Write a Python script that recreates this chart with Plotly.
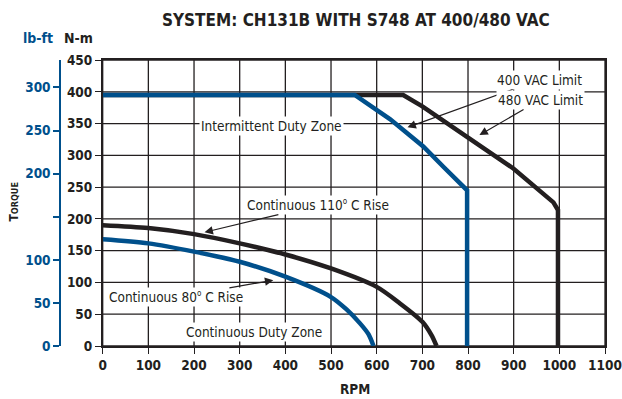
import plotly.graph_objects as go

# Torque-speed curves, torque in N-m vs motor speed in RPM
rpm_400 = [0, 552, 629, 702, 746, 793, 798, 798]
nm_400 = [395, 395, 357, 314, 282, 250, 245, 0]

rpm_480 = [0, 658, 700, 800, 900, 987, 997, 997]
nm_480 = [395, 395, 377, 327, 279, 226, 214, 0]

rpm_110 = [0, 100, 200, 300, 400, 500, 600, 651, 700, 720, 731]
nm_110 = [190, 185.5, 176, 161.5, 144, 122, 93, 67, 38, 17, 0]

rpm_80 = [0, 100, 200, 300, 400, 500, 534, 563, 582, 593]
nm_80 = [168, 161.5, 148.5, 132.5, 109, 77, 57.5, 36, 18.6, 0]

x_ticks = list(range(0, 1101, 100))
nm_ticks = list(range(0, 451, 50))
lbft_ticks = [0, 50, 100, 150, 200, 250, 300]
lbft_labels = ["0", "50", "100", "", "200", "250", "300"]
NM_PER_LBFT = 1.35582

BLUE = "#00508c"
BLACK = "#231f20"
FONT = "DejaVu Sans Condensed, DejaVu Sans, sans-serif"

fig = go.Figure()

fig.add_trace(go.Scatter(x=rpm_80, y=nm_80, mode="lines", line=dict(color=BLUE, width=4.5, shape="spline", smoothing=0.8), hoverinfo="skip"))
fig.add_trace(go.Scatter(x=rpm_110, y=nm_110, mode="lines", line=dict(color=BLACK, width=4.5, shape="spline", smoothing=0.8), hoverinfo="skip"))
fig.add_trace(go.Scatter(x=rpm_480, y=nm_480, mode="lines", line=dict(color=BLACK, width=4.5), hoverinfo="skip"))
fig.add_trace(go.Scatter(x=rpm_400, y=nm_400, mode="lines", line=dict(color=BLUE, width=4.5), hoverinfo="skip"))
# empty trace that carries the lb-ft scale
fig.add_trace(go.Scatter(x=[], y=[], yaxis="y2", hoverinfo="skip"))

# plot area geometry (pixels)
W, H = 622, 399
ML, MR, MT, MB = 20, 17, 60, 53
PW = W - ML - MR
PH = H - MT - MB


def px(xp):
    return (xp - ML) / PW


def py(yp):
    return (H - MB - yp) / PH


tick_font = dict(family=FONT, size=13.5, color=BLACK, weight="bold")

fig.update_layout(
    width=W, height=H,
    margin=dict(l=ML, r=MR, t=MT, b=MB, autoexpand=False),
    paper_bgcolor="white", plot_bgcolor="white",
    showlegend=False,
    xaxis=dict(
        domain=[px(102.7), 1], range=[0, 1100], tickvals=x_ticks,
        showgrid=False, automargin=False, ticklabeloverflow="allow",
        showline=True, linecolor=BLACK, linewidth=1.5, mirror=True,
        zeroline=False, ticks="outside", ticklen=6, tickcolor=BLACK, tickwidth=1.3,
        tickfont=tick_font, fixedrange=True,
    ),
    yaxis=dict(
        range=[0, 450], tickvals=nm_ticks,
        showgrid=False, automargin=False,
        showline=True, linecolor=BLACK, linewidth=1.5, mirror=True,
        zeroline=False, ticks="outside", ticklen=6, tickcolor=BLACK, tickwidth=1.3,
        tickfont=tick_font, fixedrange=True,
    ),
    yaxis2=dict(
        overlaying="y", side="left", anchor="free", position=px(60),
        range=[0, 450 / NM_PER_LBFT], tickvals=lbft_ticks, ticktext=lbft_labels,
        showgrid=False, zeroline=False, automargin=False,
        showline=True, linecolor=BLUE, linewidth=1.5,
        ticks="outside", ticklen=6, tickcolor=BLUE, tickwidth=1.5,
        tickfont=dict(family=FONT, size=13.5, color=BLUE, weight="bold"), fixedrange=True,
    ),
)

# grid drawn at every tick of both scales
shapes = []
for xv in x_ticks:
    shapes.append(dict(type="line", xref="x", yref="y", x0=xv, x1=xv, y0=nm_ticks[0], y1=nm_ticks[-1],
                       line=dict(color=BLACK, width=1.3), layer="below"))
for yv in nm_ticks:
    shapes.append(dict(type="line", xref="x", yref="y", x0=x_ticks[0], x1=x_ticks[-1], y0=yv, y1=yv,
                       line=dict(color=BLACK, width=1.3), layer="below"))
fig.update_layout(shapes=shapes)

annotations = []

# headings and axis titles
annotations.append(dict(text="SYSTEM: CH131B WITH S748 AT 400/480 VAC", xref="paper", yref="paper",
                        x=px(355.5), y=py(20), showarrow=False, xanchor="center", yanchor="middle",
                        font=dict(family=FONT, size=17, color=BLACK, weight="bold")))
annotations.append(dict(text="lb-ft", xref="paper", yref="paper", x=px(38), y=py(38), showarrow=False,
                        xanchor="center", yanchor="middle",
                        font=dict(family=FONT, size=14, color=BLUE, weight="bold")))
annotations.append(dict(text="N-m", xref="paper", yref="paper", x=px(78.5), y=py(38), showarrow=False,
                        xanchor="center", yanchor="middle",
                        font=dict(family=FONT, size=14, color=BLACK, weight="bold")))
annotations.append(dict(text="T<span style='font-size:9px'>ORQUE</span>", xref="paper", yref="paper",
                        x=px(13.5), y=py(202), showarrow=False, textangle=-90,
                        xanchor="center", yanchor="middle",
                        font=dict(family=FONT, size=12, color=BLACK, weight="bold")))
annotations.append(dict(text="RPM", xref="paper", yref="paper", x=px(355), y=py(389), showarrow=False,
                        xanchor="center", yanchor="middle",
                        font=dict(family=FONT, size=13.5, color=BLACK, weight="bold")))

label_font = dict(family=FONT, size=13.5, color=BLACK)

# zone labels
for txt, xv, yv in [("Intermittent Duty Zone", 368.6, 346), ("Continuous Duty Zone", 331, 21.7)]:
    annotations.append(dict(text=txt, x=xv, y=yv, xref="x", yref="y", showarrow=False,
                            bgcolor="white", borderpad=1, font=label_font))

DEG = "<sup><span style='font-size:8px'>o</span></sup>"
# curve labels with arrows: (text, text centre, arrow tip)
callouts = [
    ("400 VAC Limit", (955.6, 418.6), (667.5, 344.0)),
    ("480 VAC Limit", (957.7, 387.0), (825.0, 332.0)),
    ("Continuous 110" + DEG + " C Rise", (471.5, 221.7), (223.0, 178.9)),
    ("Continuous 80" + DEG + " C Rise", (160.0, 76.4), (373.6, 103.6)),
]
for txt, (tx, ty), (hx, hy) in callouts:
    annotations.append(dict(text=txt, x=hx, y=hy, xref="x", yref="y",
                            ax=tx, ay=ty, axref="x", ayref="y",
                            showarrow=True, arrowhead=2, arrowsize=1.4, arrowwidth=1.2,
                            arrowcolor=BLACK, bgcolor="white", borderpad=1, font=label_font))

fig.update_layout(annotations=annotations)

fig.write_html("out.html")
